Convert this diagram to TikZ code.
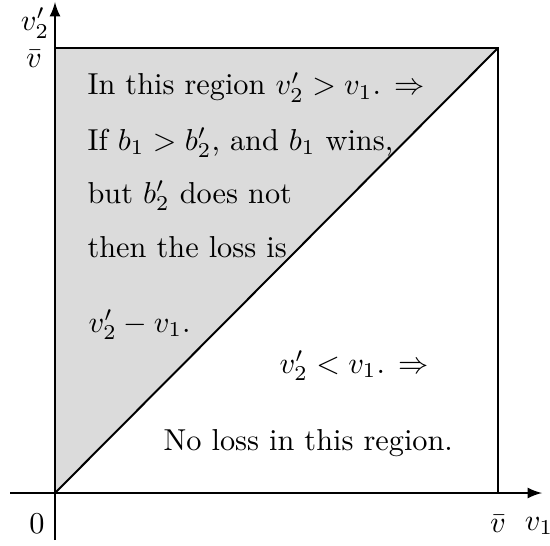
\documentclass[tikz,border=0pt]{standalone}
\usepackage{amsmath}
\begin{document}
\begin{tikzpicture}[x=0.33pt,y=0.33pt,
  font=\fontsize{10}{12}\selectfont,
  ax/.style={line width=0.65pt},
  edge/.style={line width=0.65pt},
  txt/.style={anchor=base west,inner sep=0pt},
  lbl/.style={inner sep=0pt}]
\useasboundingbox (0,0) rectangle (550,545);
\coordinate (O) at (55,52);
\coordinate (TL) at (55,497);
\coordinate (TR) at (498,497);
\coordinate (BR) at (498,52);
\coordinate (xs) at (10,52);
\coordinate (xe) at (542,52);
\coordinate (ys) at (55,5);
\coordinate (ye) at (55,543);
\fill[gray!28] (O) -- (TL) -- (TR) -- cycle;
\draw[edge] (O) -- (TR);
\draw[edge] (TL) -- (TR) -- (BR);
\draw[ax,-latex] (xs) -- (xe);
\draw[ax,-latex] (ys) -- (ye);
\node[lbl] (lv2) at (35,522) {$v_2'$};
\node[lbl] (lvb) at (34,486) {$\bar v$};
\node[lbl] (l0) at (37,21) {$0$};
\node[lbl] (lvbx) at (498,21) {$\bar v$};
\node[lbl] (lv1) at (539,19) {$v_1$};
\node[txt] (t1) at (87,450) {In this region $v_2'>v_1$. $\Rightarrow$};
\node[txt] (t2) at (87,395) {If $b_1>b_2'$, and $b_1$ wins,};
\node[txt] (t3) at (87,342) {but $b_2'$ does not};
\node[txt] (t4) at (87,288) {then the loss is};
\node[txt] (t5) at (88,213) {$v_2'-v_1$.};
\node[txt] (t6) at (279,172) {$v_2'<v_1$. $\Rightarrow$};
\node[txt] (t7) at (163,95) {No loss in this region.};
\end{tikzpicture}
\end{document}
